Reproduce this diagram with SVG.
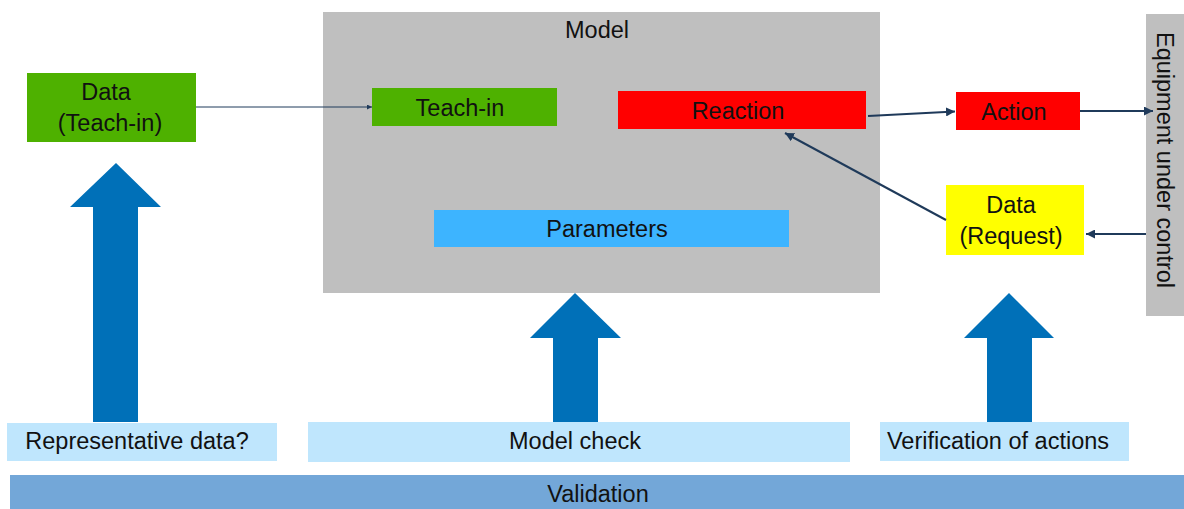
<svg xmlns="http://www.w3.org/2000/svg" width="1184" height="509" viewBox="0 0 1184 509">
<style>
text{font-family:"Liberation Sans",Arial,sans-serif;font-size:23.5px;fill:#111;text-anchor:middle}
.green{fill:#4eb100}
.red{fill:#ff0000}
.conn{stroke:#1f3a5a;fill:none}
.big{fill:#0070b8}
.lbl{fill:#bfe6fd}
</style>
<defs>
<marker id="ah" viewBox="0 0 10 10" refX="10" refY="5" markerWidth="5" markerHeight="5" orient="auto" markerUnits="userSpaceOnUse">
<path d="M0,0 L10,5 L0,10 z" fill="#1f3a5a"/>
</marker>
<marker id="ah2" viewBox="0 0 10 10" refX="10" refY="5" markerWidth="9" markerHeight="9" orient="auto" markerUnits="userSpaceOnUse">
<path d="M0,0 L10,5 L0,10 z" fill="#1f3a5a"/>
</marker>
</defs>
<g id="model">
<rect x="323" y="12" width="557" height="281" fill="#bfbfbf"/>
<text x="597" y="38">Model</text>
</g>
<g id="equipment">
<rect x="1146" y="14" width="38" height="302" fill="#bfbfbf"/>
<text transform="translate(1157,160) rotate(90)">Equipment under control</text>
</g>
<g id="data-teachin">
<rect class="green" x="27" y="73" width="169" height="69"/>
<text x="106" y="100">Data</text>
<text x="110" y="131">(Teach-in)</text>
</g>
<g id="teachin">
<rect class="green" x="372" y="88" width="185" height="38"/>
<text x="460" y="116">Teach-in</text>
</g>
<g id="reaction">
<rect class="red" x="618" y="91" width="248" height="38"/>
<text x="738" y="119">Reaction</text>
</g>
<g id="parameters">
<rect x="434" y="210" width="355" height="37" fill="#3db4ff"/>
<text x="607" y="237">Parameters</text>
</g>
<g id="action">
<rect class="red" x="956" y="92" width="124" height="38"/>
<text x="1014" y="120">Action</text>
</g>
<g id="data-request">
<rect x="946" y="185" width="138" height="70" fill="#ffff00"/>
<text x="1011" y="213">Data</text>
<text x="1011" y="244">(Request)</text>
</g>
<g id="connectors">
<line class="conn" x1="196" y1="107" x2="372" y2="107" stroke-width="1" marker-end="url(#ah)"/>
<line class="conn" x1="868" y1="116" x2="955" y2="111.5" stroke-width="2" marker-end="url(#ah2)"/>
<line class="conn" x1="1080" y1="111" x2="1153" y2="111" stroke-width="2" marker-end="url(#ah2)"/>
<line class="conn" x1="1146" y1="234" x2="1086" y2="234" stroke-width="2" marker-end="url(#ah2)"/>
<line class="conn" x1="946" y1="220" x2="785" y2="133" stroke-width="2" marker-end="url(#ah2)"/>
</g>
<g id="arrow-left"><polygon class="big" points="116,163 161,207 138,207 138,422 93,422 93,207 70,207"/></g>
<g id="arrow-mid"><polygon class="big" points="575,293 621,338 598,338 598,422 553,422 553,338 530,338"/></g>
<g id="arrow-right"><polygon class="big" points="1009,293 1054,338 1032,338 1032,422 987,422 987,338 964,338"/></g>
<g id="representative">
<rect class="lbl" x="7" y="423" width="270" height="38"/>
<text x="137" y="449">Representative data?</text>
</g>
<g id="model-check">
<rect class="lbl" x="308" y="422" width="542" height="40"/>
<text x="575" y="449">Model check</text>
</g>
<g id="verification">
<rect class="lbl" x="880" y="422" width="249" height="39"/>
<text x="998" y="449">Verification of actions</text>
</g>
<g id="validation">
<rect x="10" y="475" width="1174" height="34" fill="#73a7d8"/>
<text x="598" y="502">Validation</text>
</g>
</svg>
